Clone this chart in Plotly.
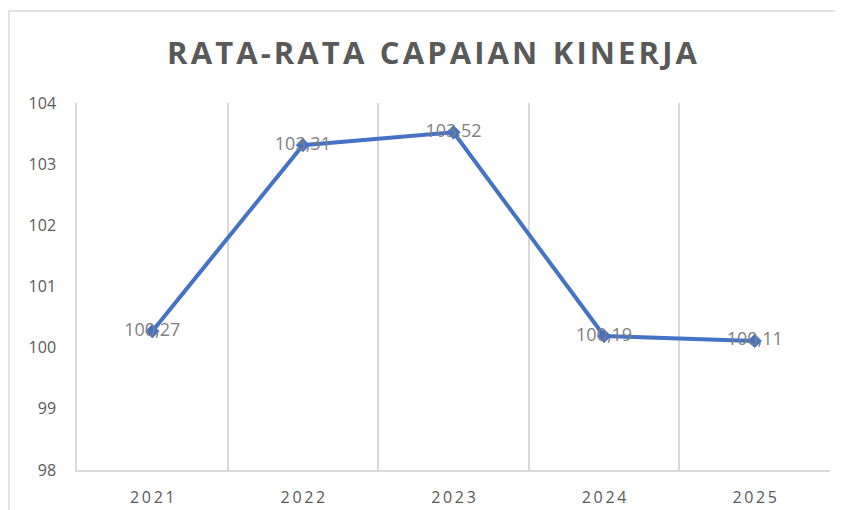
import plotly.graph_objects as go

years = ["2021", "2022", "2023", "2024", "2025"]
capaian = [100.27, 103.31, 103.52, 100.19, 100.11]

BLUE = "#4472C4"
GRID = "#D9D9D9"
TEXT = "#595959"
LABEL = "#7F7F7F"
FONT = "Open Sans, sans-serif"

thin = "\u2009"
hair = "\u200a"
tick_text = [thin.join(y) for y in years]
labels = [f"{v:.2f}".replace(".", ",") for v in capaian]

fig = go.Figure(
    go.Scatter(
        x=years,
        y=capaian,
        mode="lines+markers+text",
        line=dict(color=BLUE, width=4),
        marker=dict(symbol="diamond", size=11, color=BLUE),
        text=labels,
        textposition="middle center",
        textfont=dict(family=FONT, size=18, color=LABEL),
        hoverinfo="x+y",
    )
)

title_text = "\u2002".join(hair.join(w) for w in ["RATA-RATA", "CAPAIAN", "KINERJA"])

# page body has an 8px margin, so the margins below are shifted by 8px
fig.update_layout(
    width=843,
    height=510,
    paper_bgcolor="white",
    plot_bgcolor="white",
    showlegend=False,
    margin=dict(l=69, r=21, t=95, b=48),
    title=dict(
        text=f"<b>{title_text}</b>",
        x=0.503,
        xanchor="center",
        y=0.912,
        yanchor="middle",
        font=dict(family=FONT, size=31, color=TEXT),
    ),
    xaxis=dict(
        type="category",
        range=[-0.5, 4.5],
        tickmode="array",
        tickvals=years,
        ticktext=tick_text,
        tickson="boundaries",
        ticks="",
        showgrid=True,
        gridcolor=GRID,
        gridwidth=1.5,
        showline=True,
        linecolor=GRID,
        linewidth=1.5,
        ticklabelstandoff=12,
        automargin=False,
        tickfont=dict(family=FONT, size=16, color=TEXT),
        fixedrange=True,
    ),
    yaxis=dict(
        range=[98, 104],
        dtick=1,
        showgrid=False,
        zeroline=False,
        showline=True,
        linecolor=GRID,
        linewidth=1.5,
        ticks="",
        ticklabelstandoff=16,
        automargin=False,
        tickfont=dict(family=FONT, size=16, color=TEXT),
        fixedrange=True,
    ),
    shapes=[
        dict(
            type="rect",
            xref="paper",
            yref="paper",
            x0=-68 / 753,
            x1=1 + 10 / 753,
            y0=-0.2,
            y1=1 + 92 / 367,
            line=dict(color=GRID, width=1.5),
            fillcolor="rgba(0,0,0,0)",
            layer="below",
        )
    ],
)

fig.write_html("out.html")
